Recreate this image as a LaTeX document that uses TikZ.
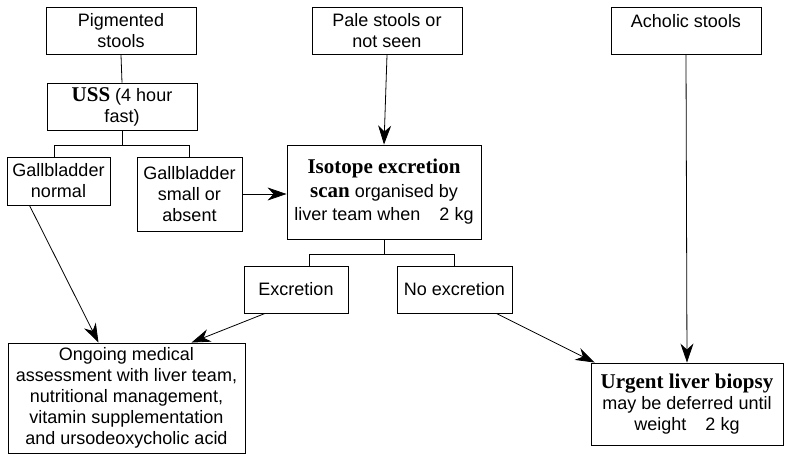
\documentclass[tikz,border=0pt]{standalone}
\usepackage{fontspec}
\setmainfont{Liberation Sans}
\newfontfamily\serifbf{Liberation Serif}
\usepackage{tikz}
\usetikzlibrary{positioning,arrows.meta}

\newcommand{\hl}[1]{{\serifbf\bfseries\fontsize{21}{21}\selectfont #1}}

\begin{document}
\begin{tikzpicture}[x=1pt,y=1pt,
                every node/.style={font=\fontsize{18}{21}\selectfont},
                box/.style={draw, rectangle, line width=0.9pt, align=center, inner sep=1pt},
                link/.style={line width=0.8pt},
                arr/.style={line width=0.8pt, -{Stealth[length=19pt, width=13pt, inset=6pt]}}]
            \useasboundingbox (0,0) rectangle (785,456);

            % top row
            \node[box, minimum width=150, minimum height=47] (pig) at (121,425) {Pigmented\\stools};
            \node[box, minimum width=150, minimum height=47] (pale) at (387,425) {Pale stools or\\not seen};
            \node[box, minimum width=150, minimum height=47] (acho) at (686,425) {Acholic stools\\\mbox{}};

            % ultrasound branch
            \node[box, minimum width=150, minimum height=47] (uss) at (122,349.5) {\hl{USS} (4 hour\\fast)};
            \node[box, minimum width=103, minimum height=48] (gbn) at (58.5,275) {Gallbladder\\normal};
            \node[box, minimum width=105, minimum height=74] (gbs) at (189.5,262) {Gallbladder\\small or\\absent};

            % isotope scan
            \node[box, minimum width=194, minimum height=94, font=\fontsize{18}{23.5}\selectfont] (iso) at (384,264)
                {\hl{Isotope excretion}\\\hl{scan} organised by\\liver team when\hspace{14pt} 2 kg};
            \node[box, minimum width=104, minimum height=47] (exc) at (296,166.5) {Excretion};
            \node[box, minimum width=115, minimum height=47] (noexc) at (454.5,166.5) {No excretion};

            % outcomes
            \node[box, minimum width=237, minimum height=110] (ongo) at (126.5,58)
                {Ongoing medical\\assessment with liver team,\\nutritional management,\\vitamin supplementation\\and ursodeoxycholic acid};
            \node[box, minimum width=192, minimum height=82] (urg) at (687,52)
                {\hl{Urgent liver biopsy}\\may be deferred until\\weight\hspace{14pt} 2 kg};

            % connectors
            \draw[link] (pig.south) -- (uss.north);
            \draw[link] (uss.south) -- ++(0,-15) coordinate (ussfork);
            \draw[link] ([xshift=-4pt]gbn.north) |- (ussfork) -| (gbs.north);
            \draw[arr] (gbs.east) -- (gbs.east -| iso.west);
            \draw[arr] (pale.south) -- (iso.north);
            \draw[link] (iso.south) -- ++(0,-15) coordinate (isofork);
            \draw[link] ([xshift=13pt]exc.north) |- (isofork) -| (noexc.north);
            \draw[arr] ([xshift=-29pt]gbn.south) -- ([xshift=-28pt]ongo.north);
            \draw[arr] ([xshift=-31pt]exc.south) -- ([xshift=65pt]ongo.north);
            \draw[arr] ([xshift=42pt]noexc.south) -- ([xshift=4pt]urg.north west);
            \draw[arr] (acho.south) -- (urg.north);
        \end{tikzpicture}
\end{document}
